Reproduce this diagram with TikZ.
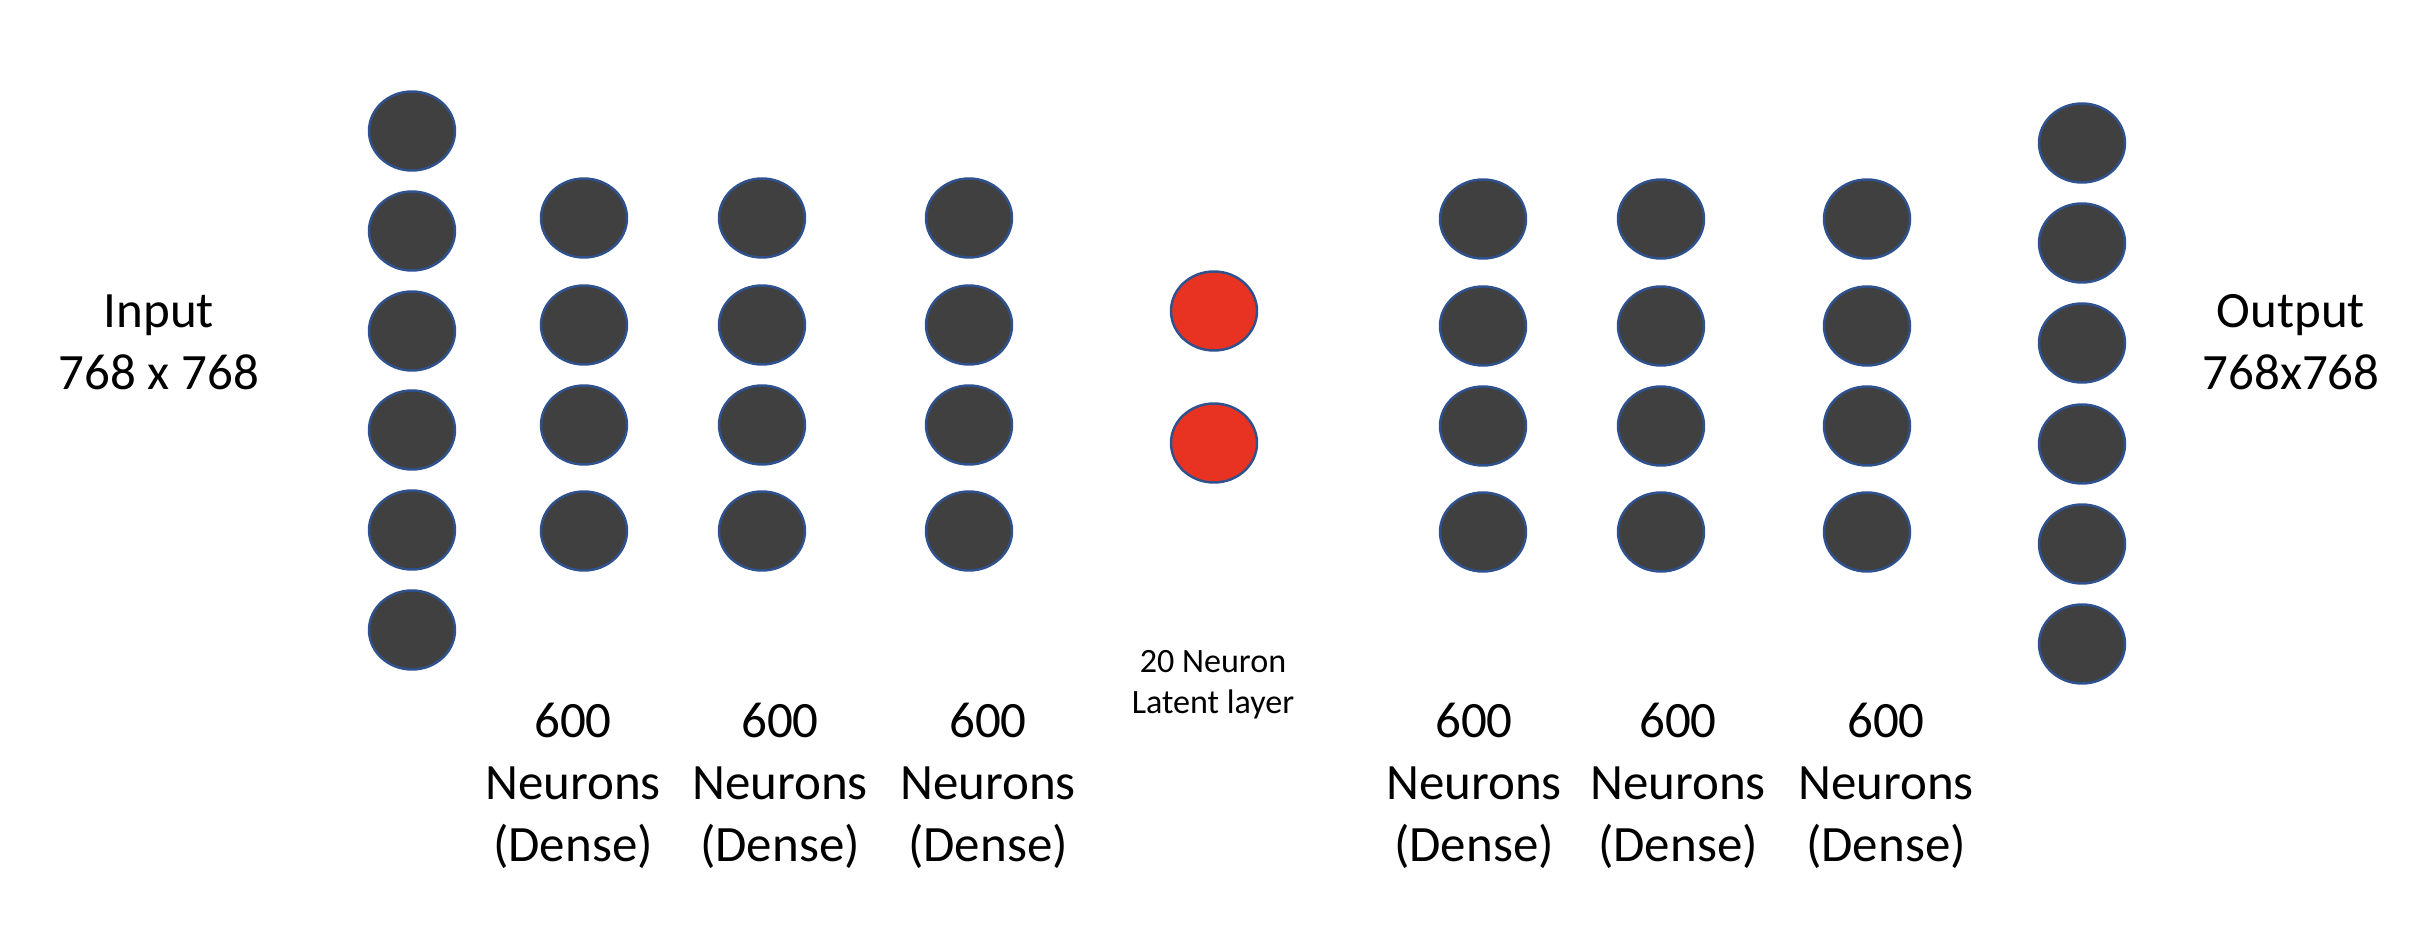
\documentclass[tikz,border=0pt]{standalone}
\usepackage{fontspec}
\setmainfont{Carlito}
\usetikzlibrary{shapes.geometric}
\definecolor{nfill}{HTML}{404040}
\definecolor{nedge}{HTML}{2F528F}
\definecolor{lred}{HTML}{E83323}

\begin{document}
\begin{tikzpicture}[
  neuron/.style={ellipse, draw=nedge, line width=0.7pt, fill=nfill, minimum width=0.86cm, minimum height=0.79cm, inner sep=0pt},
  latent/.style={neuron, fill=lred},
  lbl/.style={align=center, inner sep=0pt, font=\fontsize{14.5}{17.6}\selectfont},
  smalllbl/.style={align=center, inner sep=0pt, font=\fontsize{9.7}{11.7}\selectfont}]
\useasboundingbox (0,0) rectangle (24.24,-9.30);
% input layer
\foreach \i/\y in {1/1.31, 2/2.31, 3/3.31, 4/4.30, 5/5.30, 6/6.30}
  \node[neuron] (in-\i) at (4.12,-\y) {};
\node[lbl] (in-lbl) at (1.59,-3.42) {Input\\768 x 768};
% encoder layers
\foreach \c/\x in {enc1/5.84, enc2/7.62, enc3/9.69}
  \foreach \i/\y in {1/2.18, 2/3.25, 3/4.25, 4/5.31}
    \node[neuron] (\c-\i) at (\x,-\y) {};
% latent layer
\node[latent] (lat-1) at (12.14,-3.11) {};
\node[latent] (lat-2) at (12.14,-4.43) {};
\node[smalllbl] (lat-lbl) at (12.13,-6.85) {20 Neuron\\Latent layer};
% decoder layers
\foreach \c/\x in {dec1/14.83, dec2/16.61, dec3/18.67}
  \foreach \i/\y in {1/2.19, 2/3.26, 3/4.26, 4/5.32}
    \node[neuron] (\c-\i) at (\x,-\y) {};
% output layer
\foreach \i/\y in {1/1.43, 2/2.43, 3/3.43, 4/4.44, 5/5.44, 6/6.44}
  \node[neuron] (out-\i) at (20.82,-\y) {};
\node[lbl] (out-lbl) at (22.91,-3.42) {Output\\768x768};
% layer sizes
\foreach \c/\x in {enc1/5.73, enc2/7.80, enc3/9.88, dec1/14.74, dec2/16.78, dec3/18.86}
  \node[lbl] (\c-lbl) at (\x,-7.86) {600\\Neurons\\(Dense)};
\end{tikzpicture}
\end{document}
